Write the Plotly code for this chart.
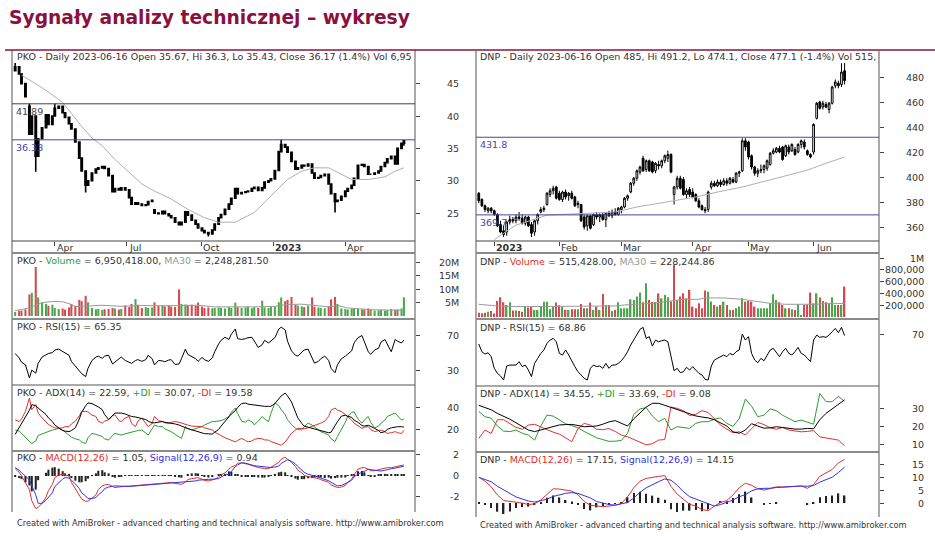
import pandas as pd
import plotly.graph_objects as go

W, H = 935, 538
FONT = "DejaVu Sans"
TITLE = "Sygnały analizy technicznej – wykresy"
FOOTER = ("Created with AmiBroker - advanced charting and technical analysis "
          "software. http://www.amibroker.com")

# ─── PKO: one candle per 3 sessions, last one 2023-06-16 ─────────────────────
pko_close = [
    47.6, 46.5, 45.0, 43.0, 37.2, 40.0, 33.8, 36.5, 38.2, 40.2,
    38.7, 40.0, 41.2, 41.5, 40.5, 39.8, 38.8, 38.0, 36.0, 33.5,
    31.5, 29.3, 30.0, 31.2, 31.8, 32.0, 32.2, 31.9, 30.8, 28.3,
    28.8, 28.6, 28.9, 28.6, 27.4, 26.4, 26.6, 26.4, 26.2, 26.3,
    26.8, 27.0, 25.0, 24.9, 25.3, 24.9, 24.6, 24.3, 23.6, 23.2,
    23.6, 25.2, 24.7, 23.9, 23.3, 22.7, 22.3, 22.0, 21.8, 22.4,
    23.3, 24.3, 24.8, 25.6, 26.4, 27.3, 28.8, 28.0, 28.2, 28.3,
    28.4, 28.8, 29.0, 28.5, 28.9, 29.8, 30.0, 30.3, 31.6, 34.5,
    35.6, 35.2, 34.4, 33.0, 31.8, 32.0, 32.4, 32.3, 32.6, 31.2,
    30.4, 30.5, 30.8, 31.0, 29.5, 28.0, 26.8, 27.0, 27.6, 28.4,
    28.8, 29.3, 30.4, 32.4, 32.5, 32.2, 31.0, 31.0, 31.2, 31.5,
    32.2, 32.8, 33.4, 33.8, 32.6, 35.0, 35.8, 36.17,
]
pko_first_open = 47.0
pko_open_gaps = {4: 41.5, 42: 25.5}
pko_high_wicks = {0: 48.2, 4: 41.89, 12: 41.9, 80: 36.33, 117: 36.3}
pko_low_wicks = {6: 31.4, 21: 28.2, 58: 21.4, 96: 25.1, 117: 35.43}
pko_volume = [  # mln
    1.5, 2.0, 2.0, 2.5, 8.0, 8.6, 18.2, 6.9, 5.0, 4.5,
    3.8, 4.2, 3.0, 2.6, 2.8, 2.4, 3.2, 4.5, 3.8, 6.0,
    5.5, 7.5, 5.1, 3.0, 2.5, 2.6, 2.3, 2.5, 2.6, 3.0,
    2.8, 2.4, 2.6, 3.9, 3.3, 4.5, 6.3, 4.2, 3.0, 3.3,
    3.0, 3.2, 5.1, 3.8, 4.0, 3.6, 3.9, 3.5, 3.4, 9.9,
    4.5, 4.3, 4.0, 4.2, 3.8, 5.0, 3.5, 3.0, 3.2, 2.9,
    3.0, 3.2, 3.0, 2.8, 3.3, 3.0, 5.0, 3.3, 3.0, 3.2,
    3.5, 2.9, 3.3, 3.0, 5.7, 3.2, 3.0, 3.4, 3.5, 5.1,
    6.9, 5.5, 6.0, 7.1, 4.2, 3.9, 3.6, 3.3, 3.9, 6.9,
    3.5, 3.2, 3.0, 2.9, 3.6, 6.2, 7.1, 4.5, 2.8, 2.6,
    2.4, 2.6, 2.9, 2.7, 2.5, 2.4, 2.8, 2.3, 2.0, 2.1,
    2.3, 2.0, 2.2, 2.6, 2.3, 2.4, 2.8, 6.95,
]
pko_ma_at = [2, 6, 10, 14, 17, 20, 23, 26, 30, 34, 38, 42, 47, 52, 57,
             61, 66, 72, 78, 82, 86, 90, 94, 98, 101, 106, 111, 114, 117]
pko_ma = [46.3, 45.0, 43.7, 42.1, 40.4, 38.4, 36.6, 35.4, 33.3, 31.3, 29.5,
          28.4, 27.2, 25.6, 24.3, 23.6, 23.6, 25.1, 28.2, 30.2, 31.5, 32.0,
          32.0, 31.0, 30.2, 30.2, 30.6, 31.5, 32.0]
pko_vma_at = [0, 4, 8, 11, 14, 16, 18, 22, 26, 32, 38, 44, 50, 55, 60, 66,
              72, 78, 82, 86, 90, 94, 97, 100, 104, 108, 113, 117]
pko_vma = [2.0, 3.0, 5.0, 5.4, 5.3, 4.6, 3.5, 3.8, 4.0, 3.6, 3.9, 3.8, 4.0,
           4.0, 3.4, 3.3, 3.4, 3.6, 4.3, 4.4, 4.0, 3.4, 3.9, 3.0, 2.6, 2.3,
           2.2, 2.25]
pko_rsi = [
    50, 45, 40, 37, 22, 31, 27.5, 38.7, 46, 48.5,
    50, 51, 54, 55, 52, 50, 48, 41, 36, 31,
    27, 23.6, 33, 42, 46, 47, 44.5, 47, 48, 38,
    40, 44, 46, 42, 40, 38.7, 42, 43, 41, 43,
    48, 44, 37, 42, 41.5, 40.6, 42.5, 43, 37.5, 38,
    44, 55, 49, 46, 44, 41, 45.5, 43, 41, 45,
    52, 61, 65, 68.5, 66, 72, 78, 67, 66, 67,
    68, 68.5, 64, 57, 60, 65, 62, 64, 68, 78,
    80, 77, 64, 53, 48, 47, 52, 54, 55, 45,
    39, 41, 44, 47, 42, 33, 28, 37, 44, 47,
    49, 53, 62, 68, 70.5, 64, 52, 49, 54, 56,
    63, 66, 60, 52, 66, 64, 62, 65.35,
]
pko_adx = [
    16, 22, 26, 32, 38, 43, 42.2, 40, 37, 34,
    31, 27.7, 24.5, 22, 19.5, 19, 18.5, 19.5, 22, 30,
    36, 42, 44.6, 44, 42.5, 41, 38.5, 34, 29.5, 33,
    35.4, 35.4, 35.4, 34.5, 33, 32.3, 31.8, 31.3, 30.8, 29.5,
    28, 26.5, 26.5, 27, 27.7, 27, 26.5, 26.2, 25.5, 24.5,
    23.5, 22.5, 21.2, 20.2, 19, 18, 17, 16.7, 16.5, 16.3,
    18, 20.5, 23.5, 28, 31.5, 34.5, 37.5, 40.5, 44, 44.5,
    43.5, 43, 42.5, 42, 41.5, 41.5, 41.5, 41.5, 44, 48,
    51, 53.5, 51, 45.5, 37, 31, 26, 23.5, 22.5, 21.5,
    21, 20.5, 20, 19, 17.5, 18, 24.5, 27.5, 32.5, 33.5,
    32.5, 31.5, 29, 27, 24, 23.5, 24.3, 23.5, 21.5, 19.5,
    17.5, 18.5, 20.5, 22, 23, 23, 23, 22.59,
]
pko_pdi = [
    20, 19, 17, 13, 9.5, 7.7, 10, 15, 16.5, 17.5,
    18.5, 20, 20.5, 21.5, 20, 18, 15.4, 13.5, 12, 11,
    9, 7.7, 13, 16.9, 16, 15.4, 14, 12, 10.8, 15,
    16.9, 16, 15.4, 16.5, 17.5, 18.5, 19, 19.5, 20, 17.5,
    15.4, 21, 24.6, 23, 23.1, 21, 19.5, 18.5, 16, 13.5,
    12.3, 23, 21.5, 20, 21, 22, 23.1, 24.5, 26, 27.7,
    27.7, 28, 28.5, 30, 32.3, 36, 40, 35, 28, 27,
    29.2, 27.5, 24.6, 28, 32.3, 30, 27.7, 35, 44.6, 42,
    38.5, 34, 29.2, 25, 21.5, 20.5, 20, 23, 26.2, 24.5,
    23, 20.5, 18.5, 17, 15.4, 12, 9.5, 14, 20, 27,
    32.3, 36, 36.5, 30, 26.2, 29, 32.3, 27, 22, 23.5,
    26.2, 29, 32.3, 34, 35.4, 33, 29, 30.07,
]
pko_mdi = [
    29.2, 27.7, 30, 37, 49, 38.5, 43, 35.4, 31, 27.7,
    25, 23.1, 22, 21.5, 22, 23, 23.1, 25.5, 28, 33,
    36.9, 36.9, 36.5, 33.5, 32.3, 28, 26.2, 28, 29.2, 33,
    33.8, 28.5, 27.7, 31, 32.3, 26, 23.1, 28, 30.8, 26,
    23.1, 26, 32.3, 28.5, 27.7, 26.5, 26.2, 27, 27.7, 27,
    26.2, 25.5, 24.5, 23.5, 23.1, 23.1, 23.1, 22, 21, 20,
    18, 16, 14.5, 13, 11.5, 10.5, 9.2, 10.5, 12.3, 10.5,
    9.2, 10, 11.5, 12.3, 12, 11, 10.8, 9.5, 8, 7,
    6.2, 9, 12.3, 17, 20, 21.5, 21.5, 21, 22, 23.1,
    24, 25, 26.2, 28, 32.3, 38, 40, 38, 36.9, 34,
    32.3, 29, 26.2, 23.5, 21.5, 22.5, 23.1, 20.5, 18.5, 19.5,
    20, 18.5, 16.9, 17.5, 18.5, 17.5, 16.9, 19.58,
]
pko_macd = [
    0.7, 0.35, 0.0, -0.6, -1.3, -2.36, -3.1, -3.0, -2.6, -2.0,
    -1.4, -0.8, -0.16, 0.1, 0.16, 0.1, 0.0, -0.6, -1.2, -1.8,
    -2.2, -2.4, -2.4, -2.1, -1.8, -1.3, -0.95, -0.85, -0.8, -1.0,
    -1.1, -1.05, -1.0, -0.98, -0.96, -0.94, -0.92, -0.9, -0.88, -0.86,
    -0.82, -0.79, -0.78, -0.74, -0.7, -0.68, -0.66, -0.63, -0.7, -0.76,
    -0.79, -0.6, -0.35, -0.25, -0.2, -0.16, -0.3, -0.42, -0.47, -0.38,
    -0.31, -0.1, 0.1, 0.3, 0.6, 0.85, 1.0, 1.2, 1.25, 1.2,
    1.12, 1.0, 0.9, 0.8, 0.75, 0.7, 0.69, 0.85, 1.05, 1.3,
    1.6, 1.8, 1.6, 1.3, 0.9, 0.55, 0.3, 0.05, -0.05, -0.12,
    -0.15, -0.25, -0.35, -0.5, -0.6, -0.85, -1.0, -1.1, -1.05, -0.9,
    -0.6, -0.3, 0.1, 0.65, 0.79, 0.8, 0.65, 0.5, 0.5, 0.6,
    0.65, 0.75, 0.8, 0.79, 0.85, 0.95, 1.0, 1.05,
]
pko_signal = [
    0.8, 0.55, 0.3, 0.0, -0.4, -0.9, -1.8, -2.6, -2.6, -2.3,
    -2.0, -1.6, -1.0, -0.6, -0.3, -0.15, -0.2, -0.4, -0.75, -1.2,
    -1.6, -1.9, -2.15, -2.15, -2.05, -1.8, -1.5, -1.2, -1.05, -0.98,
    -0.94, -0.96, -0.98, -1.0, -1.0, -0.98, -0.95, -0.92, -0.9, -0.88,
    -0.86, -0.84, -0.82, -0.79, -0.76, -0.72, -0.69, -0.66, -0.64, -0.63,
    -0.63, -0.6, -0.55, -0.5, -0.47, -0.4, -0.35, -0.33, -0.32, -0.31,
    -0.31, -0.25, -0.1, 0.1, 0.16, 0.45, 0.88, 1.05, 1.26, 1.22,
    1.15, 1.05, 0.98, 0.94, 0.9, 0.85, 0.79, 0.8, 0.85, 0.95,
    1.2, 1.45, 1.55, 1.4, 1.15, 0.9, 0.6, 0.35, 0.16, 0.08,
    0.0, -0.1, -0.2, -0.31, -0.45, -0.6, -0.8, -0.94, -0.9, -0.75,
    -0.63, -0.4, -0.1, 0.2, 0.31, 0.45, 0.63, 0.6, 0.55, 0.5,
    0.47, 0.55, 0.62, 0.69, 0.75, 0.82, 0.88, 0.94,
]
pko_levels = [41.89, 36.33]
pko_month_ticks = ["2022-04-01", "2022-07-01", "2022-10-03", "2023-01-02", "2023-04-03"]
pko_month_labels = ["Apr", "Jul", "Oct", "<b>2023</b>", "Apr"]

# ─── DNP: daily, 2022-12-23 .. 2023-06-16 ────────────────────────────────────
dnp_holidays = ["2022-12-26", "2023-01-06", "2023-04-07", "2023-04-10",
                "2023-05-01", "2023-05-03", "2023-06-08"]
dnp_ohlc = [
    (387, 388, 379, 381), (382, 383, 376, 377), (377, 378, 372, 374), (373, 376, 371, 375),
    (375, 376, 371, 373), (373, 374, 369, 370), (370, 371, 360, 361), (362, 365, 355, 356),
    (357, 361, 352, 354), (356, 365, 353, 364), (364, 369, 362, 366), (366, 368, 363, 365),
    (365, 370, 363, 368), (368, 372, 365, 367), (367, 370, 362, 363), (363, 369, 361, 368),
    (368, 369, 360, 361), (362, 364, 352, 355), (356, 366, 353, 365), (365, 371, 362, 370),
    (372, 376, 371, 374), (374, 377, 372, 375), (378, 388, 377, 387), (386, 391, 384, 389),
    (389, 393, 386, 391), (392, 393, 382, 383), (387, 389, 381, 382), (382, 389, 380, 388),
    (388, 390, 382, 384), (385, 388, 381, 387), (387, 389, 382, 383), (384, 385, 376, 377),
    (378, 381, 375, 379), (378, 378, 364, 365), (368, 370, 358, 360), (361, 370, 357, 369),
    (369, 370, 358, 359), (362, 371, 361, 370), (370, 372, 366, 368), (368, 371, 364, 370),
    (370, 372, 365, 366), (366, 372, 360, 371), (371, 373, 368, 369), (369, 374, 367, 372),
    (372, 375, 369, 370), (370, 376, 369, 375), (374, 377, 371, 376), (376, 384, 375, 383),
    (383, 386, 381, 385), (388, 396, 387, 395), (395, 400, 393, 399), (399, 406, 397, 405),
    (404, 409, 402, 408), (415, 417, 404, 405), (406, 414, 404, 413), (413, 414, 404, 405),
    (412, 413, 403, 404), (405, 412, 403, 411), (410, 413, 406, 409), (409, 414, 407, 413),
    (413, 418, 411, 417), (415, 421, 412, 418), (418, 419, 403, 404), (386, 393, 378, 392),
    (392, 401, 390, 399), (399, 401, 390, 391), (398, 400, 385, 386), (386, 391, 383, 389),
    (390, 392, 384, 386), (388, 391, 383, 384), (386, 387, 380, 381), (381, 383, 375, 376),
    (377, 378, 373, 374), (374, 376, 371, 373), (374, 389, 372, 388), (392, 397, 390, 395),
    (395, 397, 392, 393), (393, 398, 392, 396), (396, 398, 392, 394), (394, 399, 393, 397),
    (397, 399, 393, 395), (395, 400, 394, 399), (398, 400, 395, 396), (396, 404, 395, 403),
    (403, 405, 400, 404), (405, 431, 404, 429), (429, 431, 421, 424), (428, 429, 414, 416),
    (417, 418, 406, 408), (408, 409, 401, 403), (403, 407, 400, 405), (405, 410, 403, 406),
    (406, 410, 403, 409), (407, 414, 405, 413), (410, 420, 409, 419), (419, 423, 418, 421),
    (420, 424, 419, 423), (423, 425, 419, 420), (424, 425, 413, 414), (417, 426, 416, 425),
    (424, 426, 418, 420), (421, 427, 420, 426), (422, 424, 417, 418), (420, 427, 419, 426),
    (426, 430, 423, 429), (428, 430, 422, 424), (421, 422, 417, 418), (418, 419, 415, 416),
    (420, 443, 418, 442), (447, 460, 446, 459), (460, 461, 454, 455), (456, 461, 454, 459),
    (458, 460, 455, 456), (454, 460, 451, 459), (459, 473, 458, 472), (473, 478, 471, 476),
    (475, 477, 471, 473), (474, 491, 472, 484), (485, 491.2, 474.1, 477.1),
]
dnp_volume = [  # thousands
    74, 62, 74, 90, 100, 60, 272, 334, 250, 204,
    250, 108, 108, 100, 90, 175, 160, 175, 120, 120,
    175, 260, 260, 130, 175, 244, 200, 176, 120, 120,
    130, 130, 130, 220, 147, 147, 244, 120, 176, 120,
    391, 204, 204, 100, 120, 250, 147, 147, 147, 300,
    290, 346, 414, 250, 573, 290, 255, 255, 400, 317,
    374, 334, 261, 884, 289, 346, 402, 317, 460, 176,
    147, 232, 147, 448, 430, 261, 204, 176, 204, 261,
    204, 120, 120, 147, 176, 318, 261, 272, 261, 176,
    147, 147, 147, 147, 232, 385, 289, 250, 204, 147,
    147, 130, 120, 221, 20, 204, 210, 414, 232, 402,
    329, 272, 250, 232, 335, 204, 204, 204, 515.4,
]
dnp_ma_at = [5, 12, 22, 33, 44, 51, 60, 70, 77, 85, 96, 106, 112, 118]
dnp_ma = [350, 361.5, 369.5, 371, 372, 376, 380, 384, 388, 392, 399, 405.5, 411, 416]
dnp_vma_at = [0, 6, 12, 28, 33, 44, 47, 56, 62, 66, 71, 73, 79, 85, 90, 94, 99, 108, 114, 118]
dnp_vma = [215, 187, 176, 176, 187, 187, 204, 232, 272, 300, 300, 323, 323,
           300, 261, 232, 215, 215, 232, 228]
dnp_rsi = [
    62.4, 56.5, 54.7, 55.7, 52.7, 43.8, 40.0, 38.0, 34.9, 45.6,
    46.3, 46.1, 46.3, 48.9, 45.1, 46.3, 42.5, 37.4, 47.6, 51.4,
    55.2, 57.8, 62.9, 65.4, 66.7, 64.1, 55.2, 54.0, 57.8, 54.0,
    48.9, 45.1, 41.2, 38.7, 36.2, 34.9, 43.8, 46.3, 45.1, 45.6,
    43.8, 47.6, 43.8, 46.3, 46.3, 47.6, 49.6, 52.7, 56.5, 61.6,
    65.4, 69.2, 73.6, 75.1, 66.7, 68.0, 60.8, 65.4, 64.1, 64.9,
    65.4, 64.1, 54.0, 42.0, 43.8, 40.5, 41.2, 44.6, 42.5, 45.1,
    42.5, 40.0, 38.7, 35.4, 34.9, 45.6, 50.2, 51.4, 52.7, 54.0,
    52.7, 55.2, 54.0, 56.5, 57.8, 70.0, 65.4, 68.0, 55.2, 50.2,
    48.1, 51.4, 49.6, 54.0, 57.8, 59.1, 55.7, 52.7, 56.5, 59.1,
    55.2, 54.0, 56.5, 59.8, 55.2, 54.0, 51.4, 48.9, 65.4, 69.2,
    67.5, 68.0, 67.5, 69.2, 71.8, 74.3, 71.0, 75.1, 68.86,
]
# ADX / DI / MACD read every second session
dnp_adx = [31.5, 30.3, 29.0, 27.0, 25.5, 23.8, 21.8, 20.0, 17.8, 16.9,
           17.8, 19.0, 20.0, 20.6, 20.8, 20.9, 20.3, 19.6, 19.8, 20.0,
           21.0, 22.3, 23.0, 21.5, 20.0, 24.0, 27.5, 30.5, 32.6, 32.6,
           31.5, 30.4, 29.3, 28.2, 27.0, 25.6, 25.0, 24.5, 23.5, 21.8,
           20.0, 16.8, 16.0, 17.8, 21.3, 20.0, 18.8, 19.0, 19.6, 19.2,
           18.7, 18.3, 18.3, 18.7, 18.5, 23.5, 27.0, 29.5, 32.0, 34.55]
dnp_pdi = [28.0, 25.2, 24.3, 20.0, 17.2, 16.9, 17.8, 16.0, 15.0, 12.2,
           20.0, 26.1, 25.5, 23.5, 21.3, 20.2, 19.0, 17.0, 15.3, 13.5,
           12.5, 11.5, 11.6, 12.0, 16.0, 26.5, 29.5, 30.2, 25.5, 22.4,
           24.3, 17.8, 19.6, 19.0, 18.7, 21.5, 22.4, 22.4, 23.8, 24.5,
           21.5, 19.8, 24.0, 35.0, 31.0, 25.2, 26.0, 29.5, 28.5, 26.0,
           24.0, 22.4, 23.3, 22.2, 21.0, 38.1, 33.5, 33.5, 36.5, 33.69]
dnp_mdi = [13.1, 17.8, 15.9, 23.5, 23.5, 21.5, 19.3, 18.2, 20.5, 21.0,
           19.3, 18.0, 16.6, 15.5, 13.5, 11.3, 18.5, 21.5, 20.5, 18.2,
           18.0, 18.6, 17.0, 15.0, 14.0, 12.5, 11.0, 9.6, 10.2, 12.2,
           12.5, 30.5, 29.8, 28.5, 25.8, 26.5, 28.5, 27.5, 24.0, 20.5,
           18.3, 16.3, 16.8, 15.0, 18.5, 22.0, 20.8, 19.0, 18.2, 19.2,
           17.8, 17.2, 16.8, 17.0, 17.5, 14.0, 13.2, 12.8, 12.2, 9.08]
dnp_macd = [10.2, 8.6, 6.4, 3.2, 1.0, 0.7, 0.4, 0.0, -0.6, -0.3,
            1.2, 3.6, 5.6, 5.5, 5.0, 4.7, 3.3, 0.6, -0.9, -1.1,
            -1.4, -1.2, -0.9, -0.2, 2.5, 6.0, 8.6, 9.7, 10.2, 10.5,
            10.8, 6.6, 3.5, 1.5, -0.5, -1.2, -2.6, -3.0, -1.2, 0.2,
            1.0, 3.2, 6.0, 7.8, 7.0, 5.6, 5.1, 5.7, 6.4, 6.3,
            6.4, 6.6, 6.7, 5.8, 7.3, 10.5, 12.0, 13.2, 15.8, 17.15]
dnp_signal = [10.1, 9.2, 8.4, 6.6, 5.3, 4.0, 2.4, 1.6, 0.8, 0.4,
              0.9, 1.5, 2.6, 3.3, 3.8, 4.1, 3.8, 2.9, 2.0, 0.6,
              -0.1, -0.6, -0.8, -0.4, 0.2, 2.0, 4.2, 6.0, 7.3, 8.4,
              9.5, 9.0, 7.0, 4.5, 2.5, 1.5, 0.6, -0.5, -1.2, -0.6,
              0.3, 1.2, 2.5, 3.3, 4.8, 5.6, 5.8, 5.8, 6.1, 6.3,
              6.4, 6.6, 6.7, 6.6, 6.9, 8.2, 9.2, 10.2, 12.0, 14.15]
dnp_levels = [431.8, 369.7]
dnp_month_ticks = ["2023-01-02", "2023-02-01", "2023-03-01", "2023-04-03", "2023-05-02", "2023-06-01"]
dnp_month_labels = ["<b>2023</b>", "Feb", "Mar", "Apr", "May", "Jun"]

# ─── page geometry (pixels) and colours ──────────────────────────────────────
X_SPAN = [(12, 415), (476, 879)]
PANELS = [[(50, 241), (253, 319), (319, 385), (385, 451), (451, 512)],
          [(51, 241), (253, 319), (319, 386), (386, 452), (452, 517)]]
LABEL_Y = [[57, 260, 326, 392, 457], [57, 261, 327, 393, 459]]
TEXT_X = [15, 478]
TICK_RIGHT = [461, 926]
FOOT_Y = [523, 525]

MAROON = "#8B1040"
GREEN = "#2E9B2E"
RED = "#E0302E"
BLUE = "#3232E6"
LEVEL_BLUE = "#4646AA"
VOL_UP = "#4AA84A"
VOL_DN = "#D54A50"
MA_GRAY = "#B0B0B0"
FRAME = "#555555"


def fx(px):
    return px / W


def fy(px):
    return 1 - px / H


def span(txt, color):
    return f"<span style='color:{color}'>{txt}</span>"


# ─── derived series ──────────────────────────────────────────────────────────
pko_dates = pd.bdate_range(end="2023-06-16", periods=len(pko_close), freq="3B")
pko_open = [pko_first_open] + pko_close[:-1]
for k, v in pko_open_gaps.items():
    pko_open[k] = v
pko_high = [max(o, c) for o, c in zip(pko_open, pko_close)]
pko_low = [min(o, c) for o, c in zip(pko_open, pko_close)]
for k, v in pko_high_wicks.items():
    pko_high[k] = v
for k, v in pko_low_wicks.items():
    pko_low[k] = v

dnp_days = pd.bdate_range("2022-12-23", "2023-06-16", freq="C", holidays=dnp_holidays)
dnp_x = list(range(len(dnp_ohlc)))
dnp_open, dnp_high, dnp_low, dnp_close = (list(t) for t in zip(*dnp_ohlc))
dnp_month_x = list(dnp_days.get_indexer(pd.to_datetime(dnp_month_ticks)))


def vol_colors(opens, closes):
    prev = [opens[0]] + closes[:-1]
    return [VOL_UP if c >= p else VOL_DN for c, p in zip(closes, prev)]


DAY_MS = 86400000
charts = [
    dict(
        x=list(pko_dates), o=pko_open, h=pko_high, l=pko_low, c=pko_close, candle_w=1.6,
        ma_x=[pko_dates[k] for k in pko_ma_at], ma=pko_ma,
        vol=pko_volume, vcol=vol_colors(pko_open, pko_close),
        vma_x=[pko_dates[k] for k in pko_vma_at], vma=pko_vma,
        rsi_x=list(pko_dates), rsi=pko_rsi,
        ind_x=list(pko_dates), adx=pko_adx, pdi=pko_pdi, mdi=pko_mdi,
        macd=pko_macd, signal=pko_signal,
        levels=[(pko_levels[0], "#444444"), (pko_levels[1], LEVEL_BLUE)],
        xtype="date", xrange=["2022-02-06", "2023-06-30"],
        bar_w=2.6 * DAY_MS, hist_w=2.6 * DAY_MS,
        month_x=pko_month_ticks, month_text=pko_month_labels,
        yranges=[[20.7, 50.2], [-1.1, 23.4], [14, 89.4], [0.9, 60.9], [-3.43, 2.38]],
        yticks=[[25, 30, 35, 40, 45], [5, 10, 15, 20], [30, 70], [20, 40], [-2, 0, 2]],
        yticktext=[["25", "30", "35", "40", "45"], ["5M", "10M", "15M", "20M"],
                   ["30", "70"], ["20", "40"], ["-2", "0", "2"]],
        labels=[
            "PKO - Daily 2023-06-16 Open 35.67, Hi 36.3, Lo 35.43, Close 36.17 (1.4%) Vol 6,95",
            "PKO - " + span("Volume", GREEN) + " = 6,950,418.00, " + span("MA30", "#999999") + " = 2,248,281.50",
            "PKO - RSI(15) = 65.35",
            "PKO - ADX(14) = 22.59, " + span("+DI", GREEN) + " = 30.07, " + span("-DI", RED) + " = 19.58",
            "PKO - " + span("MACD(12,26)", RED) + " = 1.05, " + span("Signal(12,26,9)", BLUE) + " = 0.94",
        ],
    ),
    dict(
        x=dnp_x, o=dnp_open, h=dnp_high, l=dnp_low, c=dnp_close, candle_w=1,
        ma_x=dnp_ma_at, ma=dnp_ma,
        vol=dnp_volume, vcol=vol_colors(dnp_open, dnp_close),
        vma_x=dnp_vma_at, vma=dnp_vma,
        rsi_x=dnp_x, rsi=dnp_rsi,
        ind_x=dnp_x[::2], adx=dnp_adx, pdi=dnp_pdi, mdi=dnp_mdi,
        macd=dnp_macd, signal=dnp_signal,
        levels=[(dnp_levels[0], LEVEL_BLUE), (dnp_levels[1], LEVEL_BLUE)],
        xtype="linear", xrange=[-0.9, 129.1],
        bar_w=0.45, hist_w=0.5,
        month_x=dnp_month_x, month_text=dnp_month_labels,
        yranges=[[348.8, 500.8], [-34, 1085], [30.3, 81.5], [5.6, 42.2], [-5.5, 20.1]],
        yticks=[[360, 380, 400, 420, 440, 460, 480], [200, 400, 600, 800, 1000],
                [70], [10, 20, 30], [0, 5, 10, 15]],
        yticktext=[["360", "380", "400", "420", "440", "460", "480"],
                   ["200,000", "400,000", "600,000", "800,000", "1M"],
                   ["70"], ["10", "20", "30"], ["0", "5", "10", "15"]],
        labels=[
            "DNP - Daily 2023-06-16 Open 485, Hi 491.2, Lo 474.1, Close 477.1 (-1.4%) Vol 515,",
            "DNP - " + span("Volume", RED) + " = 515,428.00, " + span("MA30", "#999999") + " = 228,244.86",
            "DNP - RSI(15) = 68.86",
            "DNP - ADX(14) = 34.55, " + span("+DI", GREEN) + " = 33.69, " + span("-DI", RED) + " = 9.08",
            "DNP - " + span("MACD(12,26)", RED) + " = 17.15, " + span("Signal(12,26,9)", BLUE) + " = 14.15",
        ],
    ),
]

fig = go.Figure()
layout = dict(
    width=W, height=H, margin=dict(l=0, r=0, t=0, b=0),
    paper_bgcolor="white", plot_bgcolor="white", showlegend=False,
    font=dict(family=FONT, size=9.5, color="#333333"), boxgap=0.2,
)
shapes, annotations = [], []


def line(x0, y0, x1, y1, color=FRAME, width=1):
    shapes.append(dict(type="line", xref="paper", yref="paper",
                       x0=fx(x0), y0=fy(y0), x1=fx(x1), y1=fy(y1),
                       line=dict(color=color, width=width)))


def text(x, y, t, size=9.5, color="#333333"):
    annotations.append(dict(xref="paper", yref="paper", x=fx(x), y=fy(y), text=t,
                            xanchor="left", yanchor="middle", showarrow=False,
                            font=dict(size=size, color=color)))


for col, ch in enumerate(charts):
    left, right = X_SPAN[col]
    axes = []
    for p, (top, bot) in enumerate(PANELS[col]):
        n = col * 5 + p + 1
        s = "" if n == 1 else str(n)
        xr, yr = "x" + s, "y" + s
        axes.append((xr, yr))
        layout["xaxis" + s] = dict(
            domain=[fx(left), fx(right)], range=ch["xrange"], type=ch["xtype"],
            anchor=yr, showgrid=False, zeroline=False, showticklabels=False,
            ticks="", showline=False, fixedrange=True,
        )
        layout["yaxis" + s] = dict(
            domain=[fy(bot), fy(top)], range=ch["yranges"][p], anchor=xr, side="right",
            showgrid=False, zeroline=False, showticklabels=False, showline=False,
            ticks="outside", ticklen=4, tickcolor="#444444", tickvals=ch["yticks"][p],
            fixedrange=True,
        )
        for v, t in zip(ch["yticks"][p], ch["yticktext"][p]):
            annotations.append(dict(xref="paper", yref=yr, x=fx(TICK_RIGHT[col]), y=v,
                                    text=t, xanchor="right", yanchor="middle",
                                    showarrow=False, font=dict(size=9.5)))
        text(TEXT_X[col], LABEL_Y[col][p], ch["labels"][p])

    # month ticks under the price panel
    px_ax = layout["xaxis" if col == 0 else "xaxis6"]
    px_ax.update(ticks="outside", ticklen=4, tickcolor="#444444",
                 tickvals=ch["month_x"], rangeslider=dict(visible=False))
    for mx, mt in zip(ch["month_x"], ch["month_text"]):
        annotations.append(dict(xref=axes[0][0], yref="paper", x=mx, y=fy(247.5), text=mt,
                                xanchor="left", yanchor="middle",
                                showarrow=False, font=dict(size=9.5)))

    # frames
    top0, bot_last = PANELS[col][0][0], PANELS[col][-1][1]
    line(left, top0, left, bot_last)
    line(right, top0, right, bot_last)
    line(left, PANELS[col][0][1], right, PANELS[col][0][1], "#444444", 1)
    line(left, PANELS[col][1][0], right, PANELS[col][1][0], "#8A8A8A", 2)
    line(left, PANELS[col][2][0], right, PANELS[col][2][0], "#8A8A8A", 2)
    line(left, PANELS[col][3][0], right, PANELS[col][3][0], "#555555", 1)
    line(left, PANELS[col][4][0], right, PANELS[col][4][0], "#8A8A8A", 2)
    text(TEXT_X[col], FOOT_Y[col], FOOTER, size=8.2)

    # support / resistance levels
    for lv, lc in ch["levels"]:
        shapes.append(dict(type="line", xref=axes[0][0] + " domain", yref=axes[0][1],
                           x0=0, x1=1, y0=lv, y1=lv, line=dict(color=lc, width=1)))
        annotations.append(dict(xref="paper", yref=axes[0][1], x=fx(left + 2), y=lv,
                                text=str(lv), xanchor="left", yanchor="top",
                                showarrow=False, font=dict(size=9.5, color=lc)))

    (x1, y1), (x2, y2), (x3, y3), (x4, y4), (x5, y5) = axes
    fig.add_trace(go.Scatter(x=ch["ma_x"], y=ch["ma"], mode="lines", xaxis=x1, yaxis=y1,
                             line=dict(color=MA_GRAY, width=1), hoverinfo="skip"))
    fig.add_trace(go.Candlestick(
        x=ch["x"], open=ch["o"], high=ch["h"], low=ch["l"], close=ch["c"],
        xaxis=x1, yaxis=y1, whiskerwidth=0, hoverinfo="skip",
        increasing=dict(line=dict(color="black", width=ch["candle_w"]), fillcolor="white"),
        decreasing=dict(line=dict(color="black", width=ch["candle_w"]), fillcolor="black"),
    ))
    fig.add_trace(go.Bar(x=ch["x"], y=ch["vol"], xaxis=x2, yaxis=y2, width=ch["bar_w"],
                         marker=dict(color=ch["vcol"], line=dict(width=0)), hoverinfo="skip"))
    fig.add_trace(go.Scatter(x=ch["vma_x"], y=ch["vma"], mode="lines", xaxis=x2, yaxis=y2,
                             line=dict(color="#9A9A9A", width=1), hoverinfo="skip"))
    fig.add_trace(go.Scatter(x=ch["rsi_x"], y=ch["rsi"], mode="lines", xaxis=x3, yaxis=y3,
                             line=dict(color="black", width=1), hoverinfo="skip"))
    for ys, colr in ((ch["pdi"], GREEN), (ch["mdi"], RED), (ch["adx"], "black")):
        fig.add_trace(go.Scatter(x=ch["ind_x"], y=ys, mode="lines", xaxis=x4, yaxis=y4,
                                 line=dict(color=colr, width=1), hoverinfo="skip"))
    hist = [m - s for m, s in zip(ch["macd"], ch["signal"])]
    fig.add_trace(go.Bar(x=ch["ind_x"], y=hist, xaxis=x5, yaxis=y5, width=ch["hist_w"],
                         marker=dict(color="#222222", line=dict(width=0)), hoverinfo="skip"))
    fig.add_trace(go.Scatter(x=ch["ind_x"], y=ch["macd"], mode="lines", xaxis=x5, yaxis=y5,
                             line=dict(color=RED, width=1), hoverinfo="skip"))
    fig.add_trace(go.Scatter(x=ch["ind_x"], y=ch["signal"], mode="lines", xaxis=x5, yaxis=y5,
                             line=dict(color=BLUE, width=1), hoverinfo="skip"))

# title and rule
text(7, 17, "<b>" + TITLE + "</b>", size=18.7, color=MAROON)
line(5, 50, 935, 50, MAROON, 1.5)

layout["shapes"] = shapes
layout["annotations"] = annotations
fig.update_layout(**layout)
fig.write_html("out.html", config={"displayModeBar": False},
               post_script="document.body.style.margin = '0';")
